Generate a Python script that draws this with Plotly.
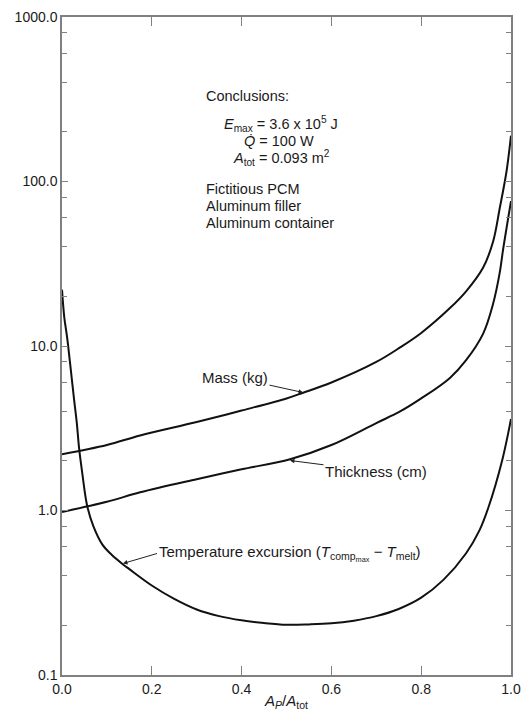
import plotly.graph_objects as go

# Data
mass_x = [0, 0.1, 0.174, 0.3, 0.4, 0.5, 0.537, 0.6, 0.7, 0.753, 0.8, 0.864, 0.9, 0.938, 0.96, 0.975, 0.99, 1.0]
mass_y = [2.2, 2.5, 2.86, 3.45, 4.05, 4.8, 5.2, 6.0, 8.0, 9.8, 12.0, 17, 21.5, 30, 43, 69, 115, 190]

thick_x = [0, 0.1, 0.174, 0.3, 0.4, 0.508, 0.6, 0.7, 0.753, 0.8, 0.864, 0.9, 0.938, 0.96, 0.975, 0.982, 0.99, 1.0]
thick_y = [0.98, 1.13, 1.29, 1.55, 1.78, 2.05, 2.5, 3.4, 4.0, 4.8, 6.4, 8.2, 11.9, 18, 28, 38, 52, 76]

temp_x = [0, 0.005, 0.01, 0.013, 0.02, 0.027, 0.033, 0.038, 0.045, 0.056, 0.07, 0.09, 0.11, 0.136,
          0.15, 0.2, 0.25, 0.3, 0.35, 0.4, 0.45, 0.5, 0.55, 0.6, 0.65, 0.7, 0.75, 0.8, 0.85, 0.9,
          0.93, 0.95, 0.98, 1.0]
temp_y = [22, 15, 12, 10.4, 7, 4.7, 3.4, 2.4, 1.7, 1.07, 0.8, 0.62, 0.54, 0.47,
          0.44, 0.35, 0.29, 0.25, 0.228, 0.215, 0.207, 0.202, 0.203, 0.206, 0.214, 0.228, 0.252, 0.295,
          0.38, 0.55, 0.76, 1.05, 2.0, 3.6]

x_ticks = [0.0, 0.2, 0.4, 0.6, 0.8, 1.0]
x_ticktext = ["0.0", "0.2", "0.4", "0.6", "0.8", "1.0"]
y_ticks = [0.1, 1, 10, 100, 1000]
y_ticktext = ["0.1", "1.0", "10.0", "100.0", "1000.0"]
y_minor = [m * d for d in [0.1, 1, 10, 100] for m in [2, 4, 6, 8]]

FONT = "Liberation Sans, Arial, sans-serif"
TXT = "#1a1a1a"
line = dict(color="#111111", width=2, shape="spline", smoothing=1.0)

fig = go.Figure()
fig.add_trace(go.Scatter(x=mass_x, y=mass_y, mode="lines", line=line, name="Mass (kg)"))
fig.add_trace(go.Scatter(x=thick_x, y=thick_y, mode="lines", line=line, name="Thickness (cm)"))
fig.add_trace(go.Scatter(x=temp_x, y=temp_y, mode="lines", line=line, name="Temperature excursion"))

axcol = "#808080"
fig.update_layout(
    width=522, height=711,
    margin=dict(l=62, r=11, t=17, b=36),
    paper_bgcolor="white", plot_bgcolor="white",
    showlegend=False,
    font=dict(family=FONT, size=13, color=TXT),
    xaxis=dict(range=[0, 1], tickvals=x_ticks, ticktext=x_ticktext, ticks="inside", ticklen=9,
               tickcolor=axcol, tickwidth=1.2, showline=True, linecolor=axcol, linewidth=1.5,
               mirror="ticks", showgrid=False, zeroline=False, automargin=False,
               tickfont=dict(size=14, color=TXT),
               title=dict(text="<i>A</i><sub><i>P</i></sub>/<i>A</i><sub>tot</sub>", standoff=1,
                          font=dict(size=15, color=TXT))),
    yaxis=dict(type="log", range=[-1, 3], tickvals=y_ticks, ticktext=y_ticktext, ticks="inside",
               ticklen=6, tickcolor=axcol, tickwidth=1.2, showline=True, linecolor=axcol, linewidth=1.5,
               mirror="ticks", showgrid=False, zeroline=False, automargin=False,
               tickfont=dict(size=14, color=TXT),
               minor=dict(tickvals=y_minor, ticks="inside", ticklen=5, tickcolor=axcol, showgrid=False)),
)

def px2x(px):
    return (px - 62) / 449.0

def py2ly(py):
    return (510 - py) / 164.5

anns = []
def text(px, py, t, anchor="left", size=14.5):
    anns.append(dict(x=px2x(px), y=py2ly(py), xref="x", yref="y", text=t, showarrow=False,
                     xanchor=anchor, yanchor="middle", font=dict(size=size, color=TXT)))

text(204, 95, "Conclusions:")
text(281, 123, "<i>E</i><sub>max</sub> = 3.6 x 10<sup>5</sup> J", "center")
text(279, 140, "<i>Q̇</i> = 100 W", "center")
text(281, 157, "<i>A</i><sub>tot</sub> = 0.093 m<sup>2</sup>", "center")
text(204, 188, "Fictitious PCM")
text(204, 205, "Aluminum filler")
text(204, 222, "Aluminum container")

def arrow(hx, hy, tx, ty, t, anchor="center"):
    anns.append(dict(x=px2x(hx), y=py2ly(hy), xref="x", yref="y", text=t, showarrow=True,
                     ax=tx - hx, ay=ty - hy, xanchor=anchor, yanchor="middle",
                     arrowhead=2, arrowsize=0.9, arrowwidth=1, arrowcolor="#222",
                     font=dict(size=15, color=TXT)))

arrow(303, 392, 235, 377, "Mass (kg)")
arrow(290, 460, 376, 471, "Thickness (cm)")
arrow(123, 563, 157, 553,
      "Temperature excursion (<i>T</i><sub>comp<sub>max</sub></sub> − <i>T</i><sub>melt</sub>)", "left")

fig.update_layout(annotations=anns)
fig.write_html("out.html", config={"displayModeBar": False},
               post_script="document.body.style.margin='0';document.body.style.overflow='hidden';")
